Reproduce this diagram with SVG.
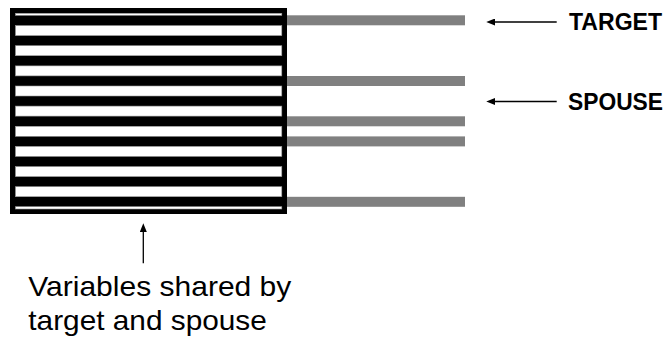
<svg xmlns="http://www.w3.org/2000/svg" width="668" height="343" viewBox="0 0 668 343">
<style>
.stripe{fill:#fff;stroke:#999;stroke-width:0.6}
.bar{fill:#808080}
.lbl{font-family:"Liberation Sans",Arial,sans-serif;font-weight:bold;font-size:23px;fill:#000}
.cap{font-family:"Liberation Sans",Arial,sans-serif;font-size:28.5px;fill:#000}
.conn{stroke:#000;stroke-width:1.3;fill:none}
</style>
<defs>
<marker id="ah" viewBox="0 0 10 8" refX="0" refY="4" markerWidth="9" markerHeight="7" markerUnits="userSpaceOnUse" orient="auto-start-reverse">
<path d="M0,0 L10,4 L0,8 Z" fill="#000"/>
</marker>
</defs>
<rect width="668" height="343" fill="#fff"/>
<g id="matrix">
<rect x="10" y="8" width="277" height="206" fill="#000"/>
<rect class="stripe" x="15.5" y="13.3" width="266.3" height="2"/>
<rect class="stripe" x="15.5" y="25.6" width="266.3" height="10"/>
<rect class="stripe" x="15.5" y="45.7" width="266.3" height="10"/>
<rect class="stripe" x="15.5" y="65.9" width="266.3" height="10"/>
<rect class="stripe" x="15.5" y="86.0" width="266.3" height="10"/>
<rect class="stripe" x="15.5" y="106.1" width="266.3" height="10"/>
<rect class="stripe" x="15.5" y="126.3" width="266.3" height="10"/>
<rect class="stripe" x="15.5" y="146.4" width="266.3" height="10"/>
<rect class="stripe" x="15.5" y="166.6" width="266.3" height="10"/>
<rect class="stripe" x="15.5" y="186.7" width="266.3" height="10"/>
<rect class="stripe" x="15.5" y="206.7" width="266.3" height="2.3"/>
</g>
<g id="bars">
<rect class="bar" x="287" y="15.3" width="178" height="10"/>
<rect class="bar" x="287" y="76" width="178" height="10"/>
<rect class="bar" x="287" y="116.3" width="178" height="10"/>
<rect class="bar" x="287" y="136.4" width="178" height="10"/>
<rect class="bar" x="287" y="196.8" width="178" height="10"/>
</g>
<g id="target"><text class="lbl" x="569" y="29.5" textLength="93" lengthAdjust="spacingAndGlyphs">TARGET</text></g>
<g id="spouse"><text class="lbl" x="568" y="109.5" textLength="95" lengthAdjust="spacingAndGlyphs">SPOUSE</text></g>
<g id="shared">
<text class="cap" x="28.3" y="296.3" textLength="263" lengthAdjust="spacingAndGlyphs">Variables shared by</text>
<text class="cap" x="28.3" y="329.7" textLength="238.5" lengthAdjust="spacingAndGlyphs">target and spouse</text>
</g>
<g id="connectors">
<line class="conn" x1="556.7" y1="22" x2="495" y2="22" marker-end="url(#ah)"/>
<line class="conn" x1="556.7" y1="101.5" x2="495" y2="101.5" marker-end="url(#ah)"/>
<line class="conn" x1="143.3" y1="263.3" x2="143.3" y2="232" marker-end="url(#ah)"/>
</g>
</svg>
